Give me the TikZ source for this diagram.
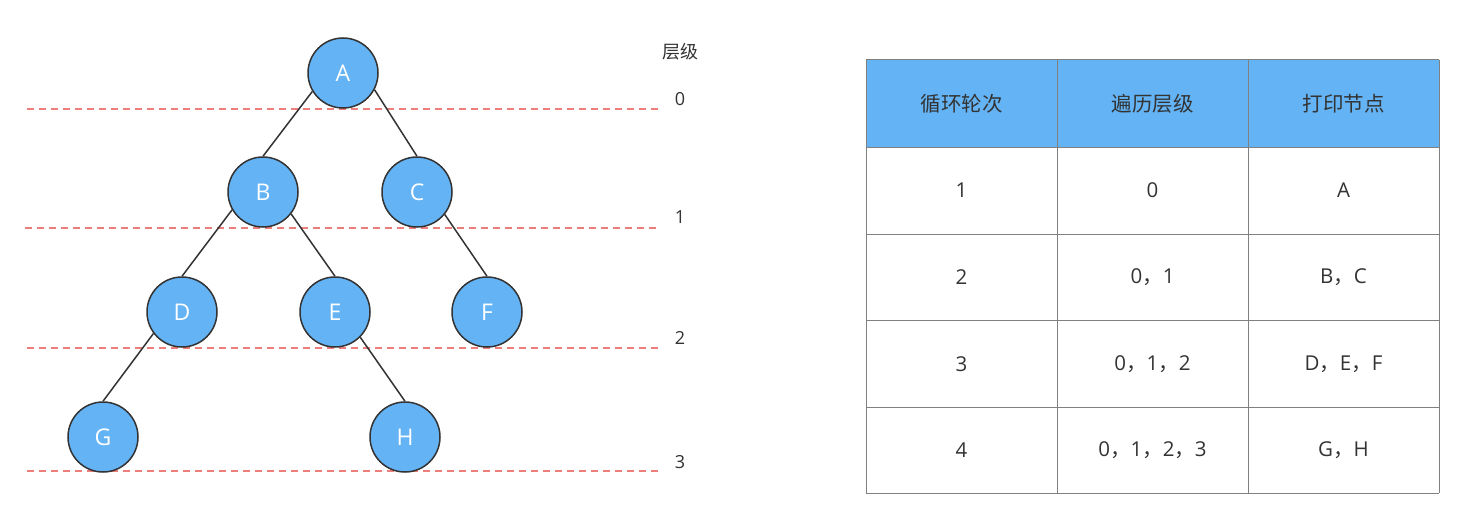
\documentclass[tikz,border=0pt]{standalone}
\usepackage{fontspec}
\setmainfont{Open Sans}
\newfontfamily\cjk{Noto Sans CJK SC}
\newcommand{\cm}{{\cjk ，}}
\definecolor{nodeblue}{HTML}{63B3F5}
\definecolor{dashred}{HTML}{EE7E7B}
\definecolor{gridgray}{HTML}{808080}
\definecolor{txt}{HTML}{333333}
\begin{document}
\begin{tikzpicture}[x=1pt,y=-1pt,
  tnode/.style={circle,draw=txt,line width=1.5pt,fill=nodeblue,minimum size=70pt,inner sep=0pt,text=white,font=\fontsize{23}{23}\selectfont},
  edge/.style={draw=txt,line width=1.5pt},
  level/.style={draw=dashred,line width=1.3pt,dash pattern=on 7pt off 5pt},
  lab/.style={text=txt,font=\fontsize{18}{18}\selectfont},
  cell/.style={text=txt,font=\fontsize{20.5}{20.5}\selectfont},
  grid/.style={draw=gridgray,line width=1pt}]
\useasboundingbox (0,0) rectangle (1464,519);
\fill[white] (0,0) rectangle (1464,519);
% dashed level lines
\draw[level] (27,109) -- (660,109);
\draw[level] (25,228) -- (657,228);
\draw[level] (27,348) -- (660,348);
\draw[level] (27,471) -- (660,471);
% nodes
\node[tnode] (A) at (343,73) {A};
\node[tnode] (B) at (263,192) {B};
\node[tnode] (C) at (417,192) {C};
\node[tnode] (D) at (182,312) {D};
\node[tnode] (E) at (335,312) {E};
\node[tnode] (F) at (487,312) {F};
\node[tnode] (G) at (103,437) {G};
\node[tnode] (H) at (405,437) {H};
\path[edge] (A.211) -- (B.north);
\path[edge] (A.332) -- (C.north);
\path[edge] (B.210) -- (D.north);
\path[edge] (B.322) -- (E.north);
\path[edge] (C.321) -- (F.north);
\path[edge] (D.217) -- (G.north);
\path[edge] (E.315) -- (H.north);
% level labels
\node[lab] (lt) at (680,52) {\cjk 层级};
\node[lab] (l0) at (680,99) {0};
\node[lab] (l1) at (680,217) {1};
\node[lab] (l2) at (680,338) {2};
\node[lab] (l3) at (680,462) {3};
% table
\fill[nodeblue] (866,60) rectangle (1439,147);
\foreach \x in {866,1057,1248,1439} \draw[grid] (\x,60) -- (\x,493);
\foreach \y in {60,147,234,320,407,493} \draw[grid] (866,\y) -- (1439,\y);
\node[cell] (h1) at (961.5,104) {\cjk 循环轮次};
\node[cell] (h2) at (1152.5,104) {\cjk 遍历层级};
\node[cell] (h3) at (1343.5,104) {\cjk 打印节点};
\node[cell] (r11) at (961.5,190) {1};
\node[cell] (r12) at (1152.5,190) {0};
\node[cell] (r13) at (1343.5,190) {A};
\node[cell] (r21) at (961.5,277) {2};
\node[cell] (r22) at (1152.5,277) {0\cm 1};
\node[cell] (r23) at (1343.5,277) {B\cm C};
\node[cell] (r31) at (961.5,364) {3};
\node[cell] (r32) at (1152.5,364) {0\cm 1\cm 2};
\node[cell] (r33) at (1343.5,364) {D\cm E\cm F};
\node[cell] (r41) at (961.5,450) {4};
\node[cell] (r42) at (1152.5,450) {0\cm 1\cm 2\cm 3};
\node[cell] (r43) at (1343.5,450) {G\cm H};
\end{tikzpicture}
\end{document}
